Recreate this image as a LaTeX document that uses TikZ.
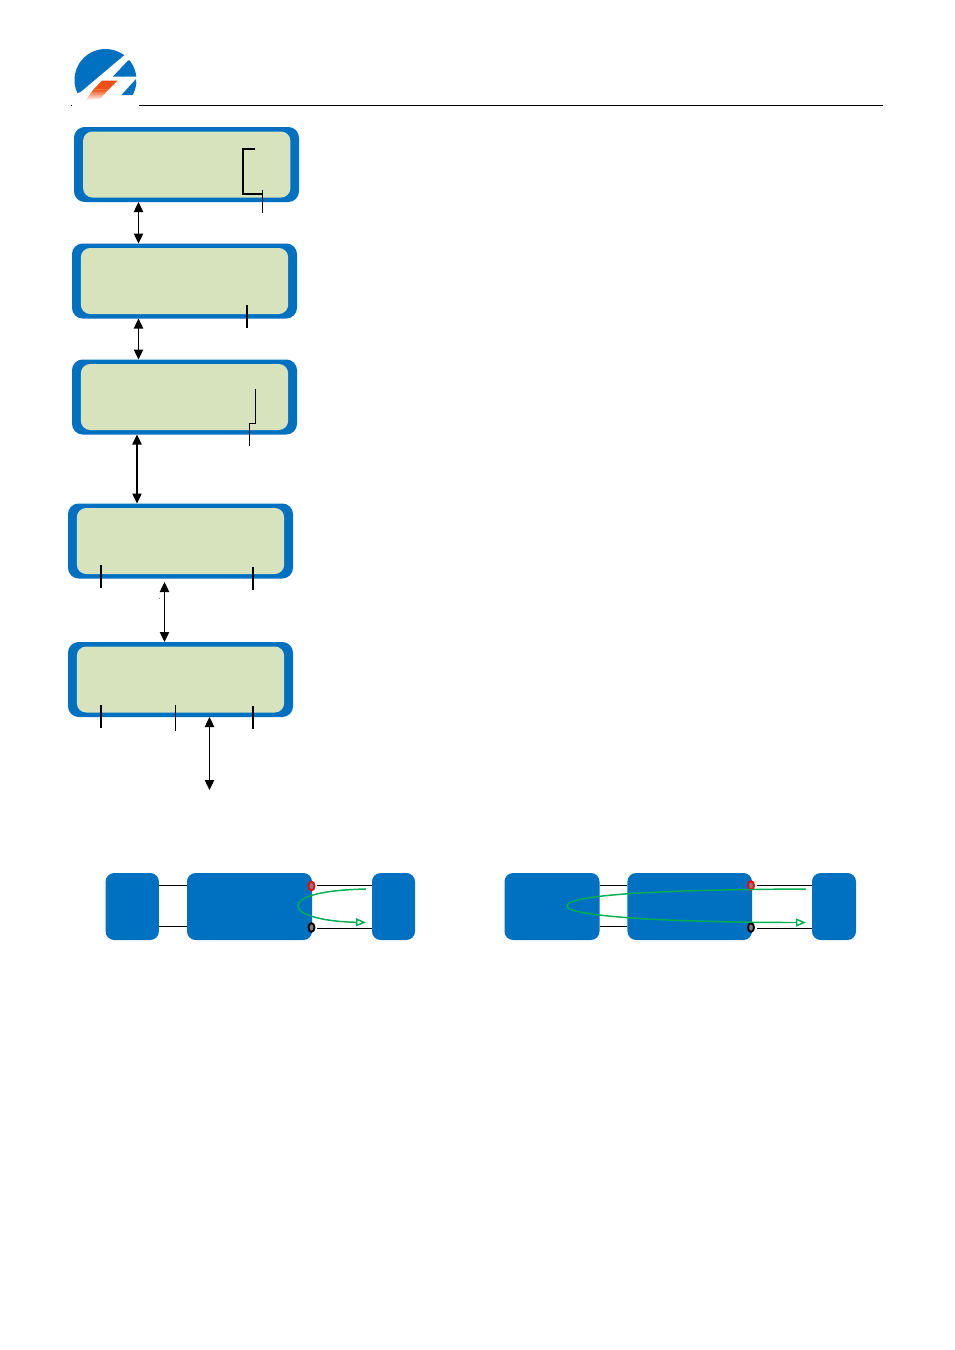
\documentclass[tikz,border=0pt]{standalone}
\usetikzlibrary{arrows.meta,calc,shapes.geometric}
\definecolor{lcdblue}{HTML}{0070C0}
\definecolor{lcdgreen}{HTML}{D7E3BC}
\definecolor{flowgreen}{HTML}{00B050}
\definecolor{logoorange}{HTML}{F04E12}
\tikzset{
  x=0.75pt,y=-0.75pt,
  lcdouter/.style={draw=none,fill=lcdblue,rounded corners=8pt,minimum width=168.75pt,minimum height=56.25pt,inner sep=0pt,outer sep=0pt},
  lcdinner/.style={draw=none,fill=lcdgreen,rounded corners=7pt,minimum width=155.5pt,minimum height=49.5pt,inner sep=0pt,outer sep=0pt},
  blockbox/.style={draw=none,fill=lcdblue,rounded corners=6.5pt,minimum height=50.25pt,inner sep=0pt,outer sep=0pt},
  both/.style={{Triangle[length=7.5pt,width=7pt]}-{Triangle[length=7.5pt,width=7pt]},line width=0.95pt,black},
  tick/.style={line width=1.1pt,black},
  thintick/.style={line width=0.7pt,black},
  wire/.style={line width=0.7pt,black},
  flow/.style={line width=1.1pt,flowgreen,-{Triangle[open,length=7.5pt,width=6pt,fill=white]}},
  termred/.style={draw=red,fill=gray,line width=1.4pt,ellipse,minimum width=4.5pt,minimum height=6.5pt,inner sep=0pt},
  termblack/.style={draw=black,fill=gray,line width=1.4pt,ellipse,minimum width=4.5pt,minimum height=6.5pt,inner sep=0pt},
}
\begin{document}
\begin{tikzpicture}
\useasboundingbox (0,0) rectangle (955,1350);
\fill[white] (0,0) rectangle (955,1350);
% logo
\begin{scope}
  \clip (105.5,80) ellipse [x radius=23.25pt,y radius=23.25pt];
  \fill[lcdblue] (125,54.5) -- (80.5,92) -- (60,100) -- (60,40) -- (140,40) -- cycle;
  \fill[lcdblue] (128,60.5) -- (113,76.5) -- (140,76.5) -- (140,60) -- cycle;
  \fill[lcdblue] (136,79) -- (121.5,95) -- (140,95) -- cycle;
\end{scope}
\fill[logoorange] (102,80.5) -- (117.5,80.5) -- (108.5,89.5) -- (93.5,89.5) -- cycle;
\shade[top color=logoorange,bottom color=white] (93.5,89.5) -- (108.5,89.5) -- (100,99) -- (86,100) -- cycle;
\draw[line width=0.7pt] (139,105) -- (883,105);
\fill[black] (70.5,104.5) rectangle (71.5,105.5);
% lcd boxes
\node[lcdouter] (b1o) at (186.5,164.5) {};
\node[lcdinner] (b1) at (186.75,164.5) {};
\node[lcdouter] (b2o) at (184.5,281) {};
\node[lcdinner] (b2) at (184.5,281) {};
\node[lcdouter] (b3o) at (184.5,397) {};
\node[lcdinner] (b3) at (184.5,397) {};
\node[lcdouter] (b4o) at (180.5,541) {};
\node[lcdinner] (b4) at (180.5,541) {};
\node[lcdouter] (b5o) at (180.5,679.5) {};
\node[lcdinner] (b5) at (180.5,679.5) {};
% bracket marks
\draw[tick] (255,149) -- (243,149) -- (243,194) -- (262,194);
\draw[thintick] (262,190) -- (262,213);
\draw[tick] (247,305) -- (247,328);
\draw[thintick] (255.5,389) -- (255.5,423) -- (249,423) -- (249,446);
\draw[tick] (101,565) -- (101,588);
\draw[tick] (253,567) -- (253,590);
\draw[tick] (101,705) -- (101,728);
\draw[thintick] (175,705) -- (175,731);
\draw[tick] (253,706) -- (253,729);
% arrows
\coordinate (a1) at (138.5,0);
\coordinate (a3) at (137,0);
\coordinate (a4) at (164.5,0);
\coordinate (a5) at (209.5,0);
\coordinate (a5end) at (209.5,790);
\coordinate (a4top) at (164.5,582);
\draw[both] (b1o.south -| a1) -- (b2o.north -| a1);
\draw[both] (b2o.south -| a1) -- (b3o.north -| a1);
\draw[both] (b3o.south -| a3) -- (b4o.north -| a3);
\draw[both] (a4top) -- (b5o.north -| a4);
\draw[both] (b5o.south -| a5) -- (a5end);
\fill[gray] (158.5,597.7) rectangle (160,598.3);
% left circuit
\node[blockbox,minimum width=40pt] (la) at (132.25,906.5) {};
\node[blockbox,minimum width=93.75pt] (lb) at (249.5,906.5) {};
\node[blockbox,minimum width=32.25pt] (lc) at (393.5,906.5) {};
\draw[wire] ($(la.east)+(0,-21.5)$) -- ($(lb.west)+(0,-21.5)$);
\draw[wire] ($(la.east)+(0,19.5)$) -- ($(lb.west)+(0,19.5)$);
\node[termred] (lr) at (311.5,886) {};
\node[termblack] (lk) at (311.5,927.5) {};
\draw[wire] (lr.east) ++(2,-0.5) -- (lc.west |- 885.5,885.5);
\draw[wire] (lk.east) ++(2,0.5) -- (lc.west |- 928,928);
\coordinate (lf1) at (366,889);
\coordinate (lf2) at (366,922.5);
\draw[flow] (lf1) .. controls (320,890) and (298,897) .. (298,906) .. controls (298,914) and (320,921.5) .. (lf2);
% right circuit
\node[blockbox,minimum width=71.25pt] (ra) at (552,906.5) {};
\node[blockbox,minimum width=93.4pt] (rb) at (689.75,906.5) {};
\node[blockbox,minimum width=33pt] (rc) at (834,906.5) {};
\draw[wire] ($(ra.east)+(0,-21.5)$) -- ($(rb.west)+(0,-21.5)$);
\draw[wire] ($(ra.east)+(0,19.5)$) -- ($(rb.west)+(0,19.5)$);
\node[termred] (rr) at (751,885.5) {};
\node[termblack] (rk) at (751,927.5) {};
\draw[wire] (rr.east) ++(2,0) -- (rc.west |- 885.5,885.5);
\draw[wire] (rk.east) ++(2,0.5) -- (rc.west |- 928,928);
\coordinate (rf1) at (806,889);
\coordinate (rf2) at (806,922.5);
\draw[flow] (rf1) .. controls (690,889.5) and (567,893) .. (567,906) .. controls (567,917) and (680,922.5) .. (rf2);
\end{tikzpicture}
\end{document}
